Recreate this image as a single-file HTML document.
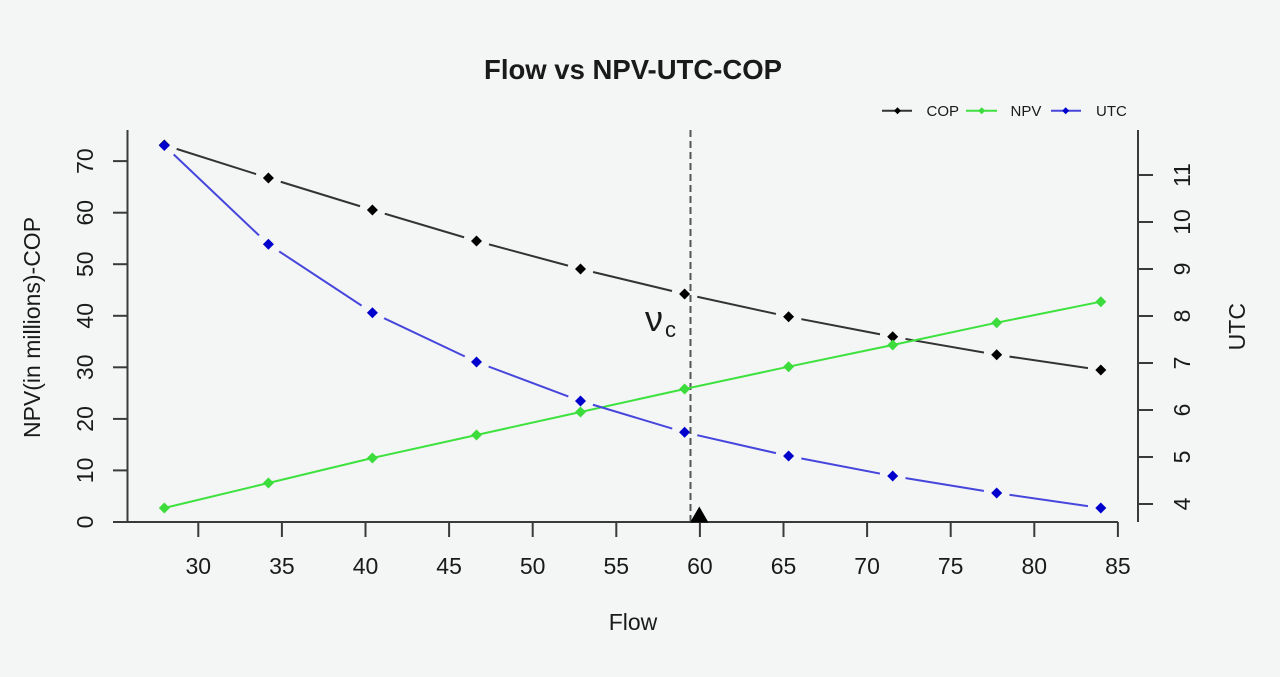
<!DOCTYPE html>
<html>
<head>
<meta charset="utf-8">
<style>
  html, body { margin:0; padding:0; background:#f4f5f5; }
  svg { display:block; }
  text { font-family: "Liberation Sans", Arial, sans-serif; fill:#1a1a1a; }
</style>
</head>
<body>
<svg width="1280" height="677" viewBox="0 0 1280 677" xmlns="http://www.w3.org/2000/svg">
  <rect x="0" y="0" width="1280" height="677" fill="#f4f5f5"/>
  <defs>
    <mask id="mcop" maskUnits="userSpaceOnUse" x="0" y="0" width="1280" height="677">
      <rect x="0" y="0" width="1280" height="677" fill="#fff"/>
      <circle cx="164.3" cy="145" r="13" fill="#000"/>
      <circle cx="268.4" cy="178" r="13" fill="#000"/>
      <circle cx="372.4" cy="210" r="13" fill="#000"/>
      <circle cx="476.5" cy="241" r="13" fill="#000"/>
      <circle cx="580.5" cy="269" r="13" fill="#000"/>
      <circle cx="684.6" cy="294" r="13" fill="#000"/>
      <circle cx="788.6" cy="316.7" r="13" fill="#000"/>
      <circle cx="892.7" cy="336.7" r="13" fill="#000"/>
      <circle cx="996.7" cy="354.7" r="13" fill="#000"/>
      <circle cx="1100.8" cy="370" r="13" fill="#000"/>
    </mask>
    <mask id="mutc" maskUnits="userSpaceOnUse" x="0" y="0" width="1280" height="677">
      <rect x="0" y="0" width="1280" height="677" fill="#fff"/>
      <circle cx="164.3" cy="145.5" r="13" fill="#000"/>
      <circle cx="268.4" cy="244.3" r="13" fill="#000"/>
      <circle cx="372.4" cy="312.7" r="13" fill="#000"/>
      <circle cx="476.5" cy="362" r="13" fill="#000"/>
      <circle cx="580.5" cy="401" r="13" fill="#000"/>
      <circle cx="684.6" cy="432.3" r="13" fill="#000"/>
      <circle cx="788.6" cy="456" r="13" fill="#000"/>
      <circle cx="892.7" cy="476" r="13" fill="#000"/>
      <circle cx="996.7" cy="493" r="13" fill="#000"/>
      <circle cx="1100.8" cy="508" r="13" fill="#000"/>
    </mask>
    <path id="dia" d="M0,-5.5 L5.5,0 L0,5.5 L-5.5,0 Z"/>
    <path id="dias" d="M0,-3.5 L3.5,0 L0,3.5 L-3.5,0 Z"/>
  </defs>

  <!-- Title -->
  <text x="633" y="79" font-size="27.5" font-weight="bold" text-anchor="middle" fill="#111">Flow vs NPV-UTC-COP</text>

  <!-- Axes lines -->
  <g stroke="#3a3a3a" stroke-width="2" fill="none">
    <line x1="127.5" y1="130" x2="127.5" y2="522"/>
    <line x1="127.5" y1="522" x2="1118" y2="522"/>
    <line x1="1138" y1="130" x2="1138" y2="522"/>
    <!-- left ticks -->
    <line x1="113" y1="522" x2="127.5" y2="522"/>
    <line x1="113" y1="470.4" x2="127.5" y2="470.4"/>
    <line x1="113" y1="418.9" x2="127.5" y2="418.9"/>
    <line x1="113" y1="367.3" x2="127.5" y2="367.3"/>
    <line x1="113" y1="315.8" x2="127.5" y2="315.8"/>
    <line x1="113" y1="264.2" x2="127.5" y2="264.2"/>
    <line x1="113" y1="212.7" x2="127.5" y2="212.7"/>
    <line x1="113" y1="161.1" x2="127.5" y2="161.1"/>
    <!-- bottom ticks -->
    <line x1="198.3" y1="522" x2="198.3" y2="537"/>
    <line x1="281.9" y1="522" x2="281.9" y2="537"/>
    <line x1="365.5" y1="522" x2="365.5" y2="537"/>
    <line x1="449.1" y1="522" x2="449.1" y2="537"/>
    <line x1="532.7" y1="522" x2="532.7" y2="537"/>
    <line x1="616.3" y1="522" x2="616.3" y2="537"/>
    <line x1="699.9" y1="522" x2="699.9" y2="537"/>
    <line x1="783.5" y1="522" x2="783.5" y2="537"/>
    <line x1="867.1" y1="522" x2="867.1" y2="537"/>
    <line x1="950.7" y1="522" x2="950.7" y2="537"/>
    <line x1="1034.3" y1="522" x2="1034.3" y2="537"/>
    <line x1="1117.9" y1="522" x2="1117.9" y2="537"/>
    <!-- right ticks -->
    <line x1="1138" y1="504" x2="1153" y2="504"/>
    <line x1="1138" y1="457" x2="1153" y2="457"/>
    <line x1="1138" y1="410" x2="1153" y2="410"/>
    <line x1="1138" y1="363" x2="1153" y2="363"/>
    <line x1="1138" y1="316" x2="1153" y2="316"/>
    <line x1="1138" y1="269" x2="1153" y2="269"/>
    <line x1="1138" y1="222" x2="1153" y2="222"/>
    <line x1="1138" y1="175" x2="1153" y2="175"/>
  </g>

  <!-- Left tick labels (rotated) -->
  <g font-size="23" text-anchor="middle">
    <text transform="translate(93,522) rotate(-90)">0</text>
    <text transform="translate(93,470.4) rotate(-90)">10</text>
    <text transform="translate(93,418.9) rotate(-90)">20</text>
    <text transform="translate(93,367.3) rotate(-90)">30</text>
    <text transform="translate(93,315.8) rotate(-90)">40</text>
    <text transform="translate(93,264.2) rotate(-90)">50</text>
    <text transform="translate(93,212.7) rotate(-90)">60</text>
    <text transform="translate(93,161.1) rotate(-90)">70</text>
  </g>
  <!-- Right tick labels -->
  <g font-size="23" text-anchor="middle">
    <text transform="translate(1190,504) rotate(-90)">4</text>
    <text transform="translate(1190,457) rotate(-90)">5</text>
    <text transform="translate(1190,410) rotate(-90)">6</text>
    <text transform="translate(1190,363) rotate(-90)">7</text>
    <text transform="translate(1190,316) rotate(-90)">8</text>
    <text transform="translate(1190,269) rotate(-90)">9</text>
    <text transform="translate(1190,222) rotate(-90)">10</text>
    <text transform="translate(1190,175) rotate(-90)">11</text>
  </g>
  <!-- Bottom tick labels -->
  <g font-size="23" text-anchor="middle">
    <text x="198.3" y="574">30</text>
    <text x="281.9" y="574">35</text>
    <text x="365.5" y="574">40</text>
    <text x="449.1" y="574">45</text>
    <text x="532.7" y="574">50</text>
    <text x="616.3" y="574">55</text>
    <text x="699.9" y="574">60</text>
    <text x="783.5" y="574">65</text>
    <text x="867.1" y="574">70</text>
    <text x="950.7" y="574">75</text>
    <text x="1034.3" y="574">80</text>
    <text x="1117.9" y="574">85</text>
  </g>

  <!-- Axis titles -->
  <text x="633" y="630" font-size="23" text-anchor="middle">Flow</text>
  <text transform="translate(40,327.5) rotate(-90)" font-size="23" text-anchor="middle">NPV(in millions)-COP</text>
  <text transform="translate(1245,326.7) rotate(-90)" font-size="23" text-anchor="middle">UTC</text>

  <!-- Vertical dashed line -->
  <line x1="690.5" y1="130" x2="690.5" y2="522" stroke="#555" stroke-width="2" stroke-dasharray="7,4"/>

  <!-- COP series -->
  <polyline mask="url(#mcop)" fill="none" stroke="#333" stroke-width="2"
    points="164.3,145 268.4,178 372.4,210 476.5,241 580.5,269 684.6,294 788.6,316.7 892.7,336.7 996.7,354.7 1100.8,370"/>
  <g fill="#000">
    <use href="#dia" x="164.3" y="145"/>
    <use href="#dia" x="268.4" y="178"/>
    <use href="#dia" x="372.4" y="210"/>
    <use href="#dia" x="476.5" y="241"/>
    <use href="#dia" x="580.5" y="269"/>
    <use href="#dia" x="684.6" y="294"/>
    <use href="#dia" x="788.6" y="316.7"/>
    <use href="#dia" x="892.7" y="336.7"/>
    <use href="#dia" x="996.7" y="354.7"/>
    <use href="#dia" x="1100.8" y="370"/>
  </g>

  <!-- NPV series -->
  <polyline fill="none" stroke="#3ee23e" stroke-width="2"
    points="164.3,508 268.4,483 372.4,458 476.5,435 580.5,412 684.6,389 788.6,366.7 892.7,345 996.7,322.7 1100.8,301.7"/>
  <g fill="#3cdc3c">
    <use href="#dia" x="164.3" y="508"/>
    <use href="#dia" x="268.4" y="483"/>
    <use href="#dia" x="372.4" y="458"/>
    <use href="#dia" x="476.5" y="435"/>
    <use href="#dia" x="580.5" y="412"/>
    <use href="#dia" x="684.6" y="389"/>
    <use href="#dia" x="788.6" y="366.7"/>
    <use href="#dia" x="892.7" y="345"/>
    <use href="#dia" x="996.7" y="322.7"/>
    <use href="#dia" x="1100.8" y="301.7"/>
  </g>

  <!-- UTC series -->
  <polyline mask="url(#mutc)" fill="none" stroke="#4646dc" stroke-width="2"
    points="164.3,145.5 268.4,244.3 372.4,312.7 476.5,362 580.5,401 684.6,432.3 788.6,456 892.7,476 996.7,493 1100.8,508"/>
  <g fill="#0000cc">
    <use href="#dia" x="164.3" y="145.5"/>
    <use href="#dia" x="268.4" y="244.3"/>
    <use href="#dia" x="372.4" y="312.7"/>
    <use href="#dia" x="476.5" y="362"/>
    <use href="#dia" x="580.5" y="401"/>
    <use href="#dia" x="684.6" y="432.3"/>
    <use href="#dia" x="788.6" y="456"/>
    <use href="#dia" x="892.7" y="476"/>
    <use href="#dia" x="996.7" y="493"/>
    <use href="#dia" x="1100.8" y="508"/>
  </g>

  <!-- Triangle marker -->
  <polygon points="690,522.5 708.5,522.5 699.3,506.5" fill="#000"/>

  <!-- nu_c annotation -->
  <text x="645" y="331" font-size="36" fill="#111">ν</text>
  <text x="665" y="337" font-size="22" fill="#111">c</text>

  <!-- Legend -->
  <g stroke-width="2">
    <line x1="882" y1="110.7" x2="912" y2="110.7" stroke="#333"/>
    <line x1="966" y1="110.7" x2="997" y2="110.7" stroke="#3ee23e"/>
    <line x1="1051" y1="110.7" x2="1081" y2="110.7" stroke="#4646dc"/>
  </g>
  <use href="#dias" x="897.5" y="110.7" fill="#000"/>
  <use href="#dias" x="981.7" y="110.7" fill="#3cdc3c"/>
  <use href="#dias" x="1065.7" y="110.7" fill="#0000cc"/>
  <g font-size="15">
    <text x="926.5" y="116">COP</text>
    <text x="1010.5" y="116">NPV</text>
    <text x="1096" y="116">UTC</text>
  </g>
</svg>
</body>
</html>
